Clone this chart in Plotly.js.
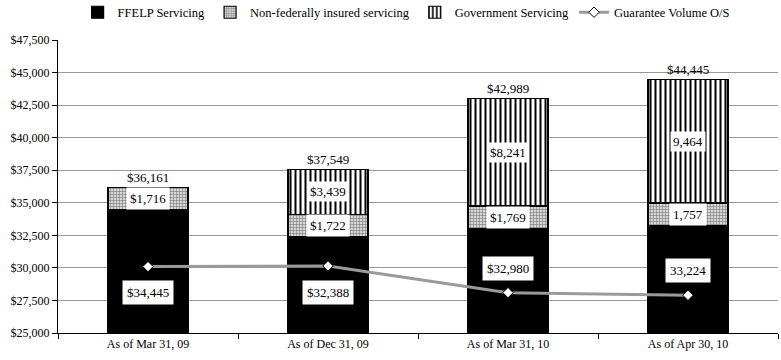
<!DOCTYPE html>
<html><head><meta charset="utf-8">
<script src="https://cdn.plot.ly/plotly-3.0.1.min.js"></script>
<style>html,body{margin:0;padding:0;background:#fff}#c{width:781px;height:360px}</style>
</head><body><div id="c"></div>
<script>
const categories = ["As of Mar 31, 09", "As of Dec 31, 09", "As of Mar 31, 10", "As of Apr 30, 10"];
const ffelp = [34445, 32388, 32980, 33224];
const nonFed = [1716, 1722, 1769, 1757];
const gov = [null, 3439, 8241, 9464];
const guarantee = [30100, 30150, 28100, 27900];
const totals = [36161, 37549, 42989, 44445];
const ffelpLabels = ["$34,445", "$32,388", "$32,980", "33,224"];
const nonFedLabels = ["$1,716", "$1,722", "$1,769", "1,757"];
const govLabels = [null, "$3,439", "$8,241", "9,464"];
const totalLabels = ["$36,161", "$37,549", "$42,989", "$44,445"];
const yTicks = [25000, 27500, 30000, 32500, 35000, 37500, 40000, 42500, 45000, 47500];

const AX_MIN = 25000, AX_MAX = 47500;
const ffelpShift = [-21, -8, 13, 9];

const FAM = "Liberation Serif";
const f = (size) => ({family: FAM, size: size, color: "#000"});
const barLine = {color: "#000", width: 1.2};

const traces = [
  {type: "bar", name: "FFELP Servicing", x: categories, y: ffelp,
   marker: {color: "#000", line: barLine}},
  {type: "bar", name: "Non-federally insured servicing", x: categories, y: nonFed,
   marker: {color: "#c8c8c8", line: barLine,
            pattern: {shape: "+", bgcolor: "#d8d8d8", fgcolor: "#777", size: 3, solidity: 0.35}}},
  {type: "bar", name: "Government Servicing", x: categories, y: gov,
   marker: {color: "#fff", line: barLine,
            pattern: {shape: "|", bgcolor: "#fff", fgcolor: "#000", size: 5, solidity: 0.4}}},
  {type: "scatter", mode: "lines+markers", name: "Guarantee Volume O/S", x: categories, y: guarantee,
   line: {color: "#9a9a9a", width: 3},
   marker: {symbol: "diamond", size: 8, color: "#fff", line: {color: "#000", width: 1}}}
];

const annotations = [];
categories.forEach((c, i) => {
  const fVisMid = (AX_MIN + ffelp[i]) / 2;
  annotations.push({x: c, y: fVisMid, text: ffelpLabels[i], showarrow: false, yshift: ffelpShift[i],
    bgcolor: "#fff", borderpad: 4, font: f(13)});
  annotations.push({x: c, y: ffelp[i] + nonFed[i] / 2, text: nonFedLabels[i], showarrow: false,
    bgcolor: "#fff", borderpad: 3, font: f(13)});
  if (gov[i] != null) {
    annotations.push({x: c, y: ffelp[i] + nonFed[i] + gov[i] / 2, text: govLabels[i], showarrow: false,
      bgcolor: "#fff", borderpad: 2, font: f(13)});
  }
  annotations.push({x: c, y: totals[i], text: totalLabels[i], showarrow: false, yanchor: "bottom",
    yshift: 1, font: f(13)});
});

const layout = {
  width: 781, height: 360,
  margin: {l: 58, r: 3, t: 40, b: 27, autoexpand: false},
  paper_bgcolor: "#fff", plot_bgcolor: "#fff",
  font: f(12),
  barmode: "stack", bargap: 0.555,
  showlegend: true,
  legend: {orientation: "h", x: 0.52, xanchor: "center", xref: "container",
           y: 0.965, yanchor: "middle", yref: "container",
           font: f(12.5), traceorder: "normal", itemwidth: 30},
  xaxis: {type: "category", showline: true, linecolor: "#000", linewidth: 1,
          ticks: "outside", tickson: "boundaries", ticklen: 5, tickcolor: "#000",
          showgrid: false, tickfont: f(12)},
  yaxis: {range: [AX_MIN, AX_MAX], tickvals: yTicks,
          ticktext: yTicks.map(v => "$" + v.toLocaleString("en-US")),
          showline: true, linecolor: "#000", linewidth: 1,
          ticks: "outside", ticklen: 5, tickcolor: "#000",
          showgrid: true, gridcolor: "#999", gridwidth: 1, zeroline: false,
          tickfont: f(12)},
  annotations: annotations
};

Plotly.newPlot("c", traces, layout, {displayModeBar: false, staticPlot: true});
</script></body></html>
